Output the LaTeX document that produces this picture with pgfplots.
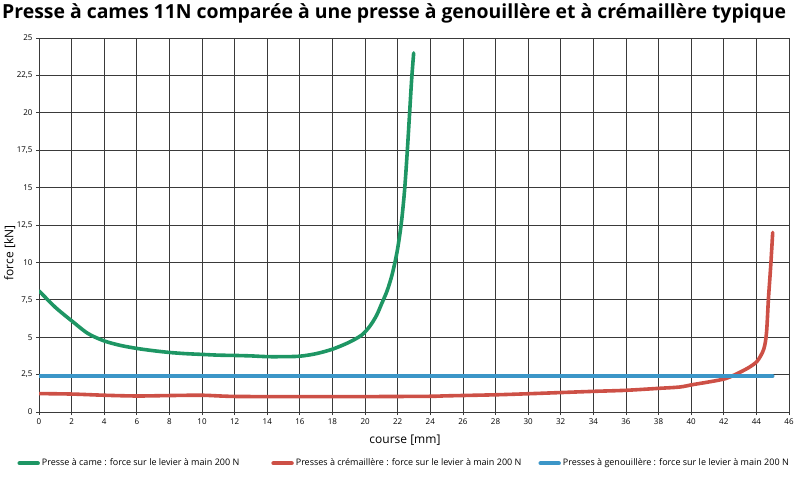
\documentclass[border=0pt]{standalone}
\usepackage{pgfplots}
\pgfplotsset{compat=1.18}
\usepackage{fontspec}
\setmainfont{Open Sans}
\definecolor{cgreen}{HTML}{1E9664}
\definecolor{cred}{HTML}{CD5046}
\definecolor{cblue}{HTML}{3C96C8}
\definecolor{cgrid}{HTML}{3A3A3A}
\begin{document}
\begin{tikzpicture}[x=1pt,y=1pt]
\useasboundingbox (0,0) rectangle (800,482);
\node[anchor=west,inner sep=0pt,font=\fontsize{19.4}{22}\selectfont\bfseries] at (2,469) {Presse à cames 11N comparée à une presse à genouillère et à crémaillère typique};
\begin{axis}[
  at={(39pt,70pt)}, anchor=south west,
  scale only axis, width=750pt, height=374pt,
  xmin=0, xmax=46, ymin=0, ymax=25,
  xtick={0,2,...,46},
  ytick={0,2.5,5,7.5,10,12.5,15,17.5,20,22.5,25},
  /pgf/number format/assume math mode=true,
  /pgf/number format/use comma,
  yticklabel style={/pgf/number format/fixed,/pgf/number format/precision=1},
  tick label style={font=\fontsize{8}{9}\selectfont, color=black},
  xtick pos=bottom, ytick pos=left,
  tick align=outside, major tick length=3pt,
  grid=major,
  major grid style={cgrid, line width=0.8pt},
  axis line style={cgrid, line width=0.8pt},
  tick style={cgrid, line width=0.8pt},
  xlabel={course [mm]},
  ylabel={force [kN]},
  label style={font=\fontsize{12}{14}\selectfont},
  xlabel style={at={(axis description cs:0.488,-0.075)}, anchor=center},
  ylabel style={at={(axis description cs:-0.039,0.425)}, anchor=center, rotate=0},
  legend columns=3,
  legend style={at={(axis description cs:-0.029,-0.137)}, anchor=west, draw=none, fill=none,
    font=\fontsize{9}{11}\selectfont, inner sep=0pt,
    /tikz/column 2/.style={column sep=30pt},
    /tikz/column 4/.style={column sep=15pt}},
  legend image code/.code={\draw[line width=4.5pt] (0pt,0pt) -- (18pt,0pt);},
  every axis plot/.append style={line width=3.6pt, line join=round, line cap=round},
]
\addplot[cgreen, smooth, tension=0.5] coordinates {
(0,8.1) (1,7.0) (2,6.1) (3,5.25) (4,4.75) (5,4.45) (6,4.25) (7,4.1) (8,3.98) (9,3.9)
(10,3.85) (11,3.8) (12,3.78) (13,3.75) (14,3.7) (15,3.7) (16,3.73) (17,3.9) (18,4.2)
(19,4.65) (19.8,5.15) (20.3,5.75) (20.7,6.45) (21.0,7.2) (21.35,8.1) (21.66,9.2)
(21.96,10.7) (22.22,12.6) (22.42,14.8) (22.58,17.3) (22.72,19.8) (22.86,22.3) (22.98,24)
};
\addlegendentry{Presse à came : force sur le levier à main 200 N}
\addplot[cred, smooth, tension=0.5] coordinates {
(0,1.23) (2,1.2) (4,1.12) (6,1.07) (8,1.1) (10,1.12) (12,1.04) (16,1.03) (20,1.03)
(24,1.05) (25,1.08) (28,1.15) (30,1.22) (32,1.3) (34,1.38) (36,1.45) (38,1.58)
(39.3,1.67) (40.1,1.83) (41.3,2.05) (42.1,2.23) (42.7,2.5) (43.5,2.95) (44.05,3.4)
(44.45,4.2) (44.62,5.3) (44.74,7.6) (44.88,9.8) (45.0,12.0)
};
\addlegendentry{Presses à crémaillère : force sur le levier à main 200 N}
\addplot[cblue] coordinates {(0,2.4) (45,2.4)};
\addlegendentry{Presses à genouillère : force sur le levier à main 200 N}
\end{axis}
\end{tikzpicture}
\end{document}
